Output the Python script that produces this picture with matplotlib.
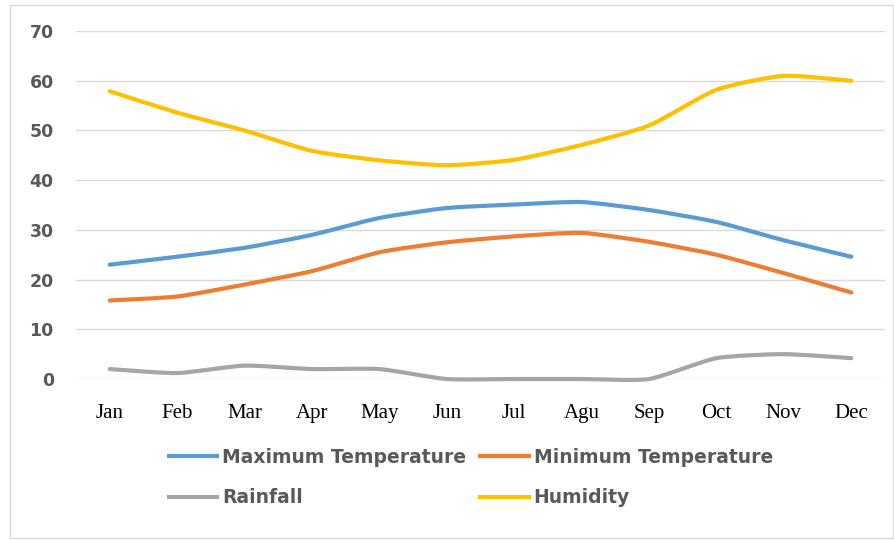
import matplotlib
matplotlib.use("Agg")
import matplotlib.pyplot as plt
from matplotlib.path import Path
from matplotlib.patches import PathPatch, Rectangle
from matplotlib.lines import Line2D
import numpy as np

months = ["Jan", "Feb", "Mar", "Apr", "May", "Jun", "Jul", "Agu", "Sep", "Oct", "Nov", "Dec"]
max_temp = [23.0, 24.6, 26.4, 29.0, 32.4, 34.4, 35.1, 35.6, 34.0, 31.6, 27.9, 24.6]
min_temp = [15.8, 16.6, 19.0, 21.7, 25.5, 27.5, 28.7, 29.4, 27.6, 25.0, 21.3, 17.4]
rainfall = [2.0, 1.2, 2.7, 2.0, 2.0, 0.0, 0.0, 0.0, 0.0, 4.2, 5.0, 4.2]
humidity = [57.9, 53.6, 50.0, 45.9, 44.0, 43.0, 44.1, 47.1, 51.0, 58.2, 61.0, 60.0]
yticks = [0, 10, 20, 30, 40, 50, 60, 70]

series = [
    ("Maximum Temperature", max_temp, "#5B9BD5"),
    ("Minimum Temperature", min_temp, "#ED7D31"),
    ("Rainfall", rainfall, "#A5A5A5"),
    ("Humidity", humidity, "#FFC000"),
]


def smooth_path(xs, ys, k=10.0):
    pts = np.column_stack([xs, ys]).astype(float)
    n = len(pts)
    verts = [pts[0]]
    codes = [Path.MOVETO]
    for i in range(n - 1):
        p0 = pts[max(i - 1, 0)]
        p1 = pts[i]
        p2 = pts[i + 1]
        p3 = pts[min(i + 2, n - 1)]
        c1 = p1 + (p2 - p0) / k
        c2 = p2 - (p3 - p1) / k
        verts += [c1, c2, p2]
        codes += [Path.CURVE4] * 3
    return Path(verts, codes)


fig = plt.figure(figsize=(8.95, 5.4), dpi=100)
fig.patch.set_facecolor("white")
ax = fig.add_axes([0.0849, 0.2981, 0.9039, 0.6444])

x = np.arange(len(months))
handles = []
for name, vals, col in series:
    patch = PathPatch(smooth_path(x, vals), facecolor="none", edgecolor=col,
                      lw=3.0, capstyle="round", joinstyle="round", clip_on=False, zorder=3)
    ax.add_patch(patch)
    handles.append(Line2D([], [], color=col, lw=3.0, label=name))

ax.set_xlim(-0.5, len(months) - 0.5)
ax.set_ylim(0, 70)
ax.set_yticks(yticks)
ax.set_yticklabels([str(v) for v in yticks], fontfamily="DejaVu Sans", fontweight="bold",
                   fontsize=12.5, color="#595959")
ax.set_xticks(x)
ax.set_xticklabels(months, fontfamily="Liberation Serif", fontsize=15, color="#000000")
ax.tick_params(axis="y", length=0, pad=16)
ax.tick_params(axis="x", length=0, pad=18)
ax.grid(axis="y", color="#D9D9D9", lw=1.0, zorder=0)
ax.set_axisbelow(True)
for s in ax.spines.values():
    s.set_visible(False)

order = [handles[0], handles[2], handles[1], handles[3]]
leg = fig.legend(handles=order, labels=[h.get_label() for h in order], ncol=2,
                 loc="upper left", bbox_to_anchor=(0.18, 0.185), frameon=False,
                 prop={"family": "DejaVu Sans", "size": 13.5, "weight": "bold"},
                 labelcolor="#595959",
                 handlelength=2.6, handletextpad=0.25, columnspacing=0.75,
                 labelspacing=1.15, borderaxespad=0)

fig.add_artist(Rectangle((0.011, 0.004), 0.987, 0.987, transform=fig.transFigure,
                         facecolor="none", edgecolor="#D9D9D9", lw=1.0))

fig.savefig("out.png", dpi=100, facecolor="white")
